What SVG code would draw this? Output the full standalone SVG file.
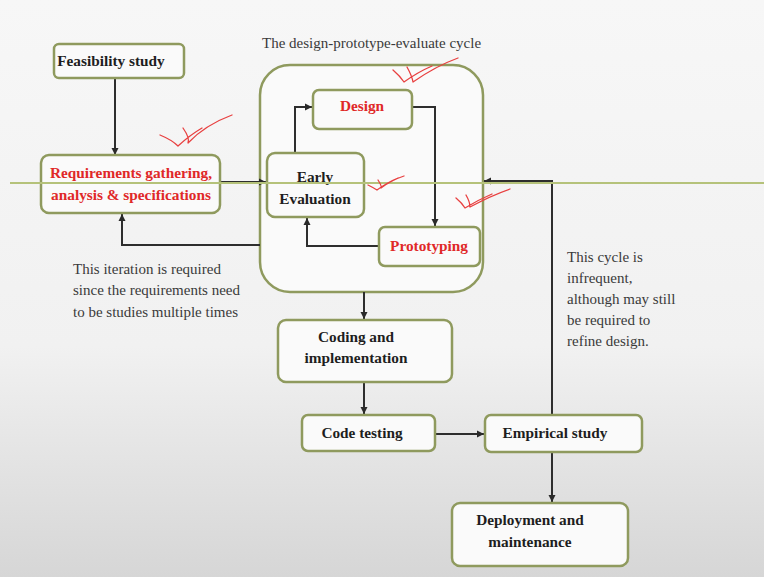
<svg xmlns="http://www.w3.org/2000/svg" width="764" height="577" viewBox="0 0 764 577">
<defs>
<linearGradient id="bg" x1="0" y1="0" x2="0" y2="1">
<stop offset="0" stop-color="#f7f7f7"/>
<stop offset="0.6" stop-color="#f1f1f1"/>
<stop offset="1" stop-color="#d6d6d6"/>
</linearGradient>
<marker id="ah" markerWidth="8" markerHeight="8" refX="7" refY="4" orient="auto" markerUnits="userSpaceOnUse">
<path d="M0,0.5 L7,4 L0,7.5 Z" fill="#2a2a2a"/>
</marker>
<style>
.box{fill:#fafafa;stroke:#8f9a5e;stroke-width:2.5}
.lbl{font-family:"Liberation Serif","Times New Roman",serif;font-weight:bold;font-size:15.3px;fill:#1e1e1e;text-anchor:middle}
.red{fill:#e02828}
.note{font-family:"Liberation Serif","Times New Roman",serif;font-size:15px;fill:#3a3a3a}
.con{fill:none;stroke:#2e2e2e;stroke-width:2}
.chk{fill:none;stroke:#e84040;stroke-width:1.3;stroke-linecap:round;stroke-linejoin:round}
</style>
</defs>
<rect x="0" y="0" width="764" height="577" fill="url(#bg)"/>

<g id="cycle-box">
<rect class="box" x="260" y="65" width="223" height="227" rx="30" fill="none"/>
</g>
<text class="note" x="262" y="48">The design-prototype-evaluate cycle</text>

<g id="connectors">
<path class="con" d="M115,78 V155" marker-end="url(#ah)"/>
<path class="con" d="M220,182 H266" marker-end="url(#ah)"/>
<path class="con" d="M260,245 H122 V214" marker-end="url(#ah)"/>
<path class="con" d="M295,153 V107 H312" marker-end="url(#ah)"/>
<path class="con" d="M412,107 H435 V226" marker-end="url(#ah)"/>
<path class="con" d="M379,246 H307 V218" marker-end="url(#ah)"/>
<path class="con" d="M364,292 V319" marker-end="url(#ah)"/>
<path class="con" d="M364,382 V414" marker-end="url(#ah)"/>
<path class="con" d="M435,434 H484" marker-end="url(#ah)"/>
<path class="con" d="M552,415 V181 H484" marker-end="url(#ah)"/>
<path class="con" d="M552,452 V502" marker-end="url(#ah)"/>
</g>

<g id="feasibility">
<rect class="box" x="54" y="44" width="130" height="34" rx="5"/>
<text class="lbl" x="111" y="66">Feasibility study</text>
</g>
<g id="requirements">
<rect class="box" x="41" y="155" width="179" height="58" rx="8"/>
<text class="lbl red" x="131" y="178">Requirements gathering,</text>
<text class="lbl red" x="131" y="200">analysis &amp; specifications</text>
</g>
<g id="design">
<rect class="box" x="313" y="90" width="99" height="39" rx="6"/>
<text class="lbl red" x="362" y="111">Design</text>
</g>
<g id="early-evaluation">
<rect class="box" x="267" y="153" width="97" height="64" rx="8"/>
<text class="lbl" x="315" y="182">Early</text>
<text class="lbl" x="315" y="204">Evaluation</text>
</g>
<g id="prototyping">
<rect class="box" x="379" y="227" width="101" height="39" rx="6"/>
<text class="lbl red" x="429" y="251">Prototyping</text>
</g>
<g id="coding">
<rect class="box" x="278" y="320" width="174" height="62" rx="8"/>
<text class="lbl" x="356" y="342">Coding and</text>
<text class="lbl" x="356" y="363">implementation</text>
</g>
<g id="code-testing">
<rect class="box" x="302" y="415" width="133" height="36" rx="6"/>
<text class="lbl" x="362" y="438">Code testing</text>
</g>
<g id="empirical">
<rect class="box" x="485" y="415" width="157" height="37" rx="6"/>
<text class="lbl" x="555" y="438">Empirical study</text>
</g>
<g id="deployment">
<rect class="box" x="452" y="503" width="176" height="63" rx="8"/>
<text class="lbl" x="530" y="525">Deployment and</text>
<text class="lbl" x="530" y="547">maintenance</text>
</g>

<text class="note" x="73" y="274">This iteration is required</text>
<text class="note" x="73" y="295">since the requirements need</text>
<text class="note" x="73" y="317">to be studies multiple times</text>

<text class="note" x="567" y="262">This cycle is</text>
<text class="note" x="567" y="283">infrequent,</text>
<text class="note" x="567" y="304">although may still</text>
<text class="note" x="567" y="325">be required to</text>
<text class="note" x="567" y="346">refine design.</text>

<line x1="10" y1="183" x2="764" y2="183" stroke="#b5c27a" stroke-width="2"/>

<g id="annotations">
<path class="chk" d="M160,135 Q172,140 178,146 Q190,135 202,128 M183,128 Q190,138 188,143 Q205,125 232,115"/>
<path class="chk" d="M393,70 Q400,76 404,82 Q418,72 432,66 M407,67 Q412,76 413,82 Q436,66 458,58"/>
<path class="chk" d="M368,185 Q374,188 377,190 Q388,182 398,178 M378,180 Q382,186 381,188 Q392,180 404,176"/>
<path class="chk" d="M456,198 Q462,203 465,208 Q478,200 492,194 M466,195 Q470,202 470,207 Q490,196 510,189"/>
</g>
</svg>
